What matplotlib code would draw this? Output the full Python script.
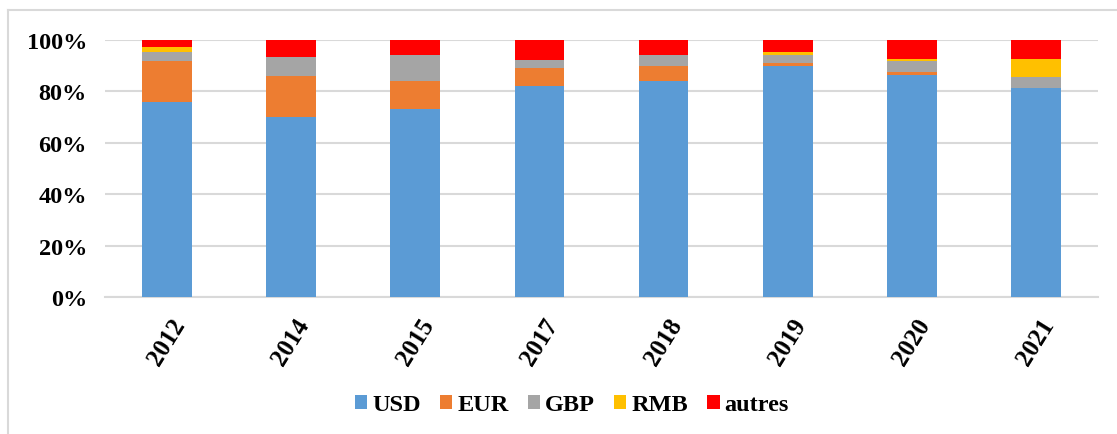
import matplotlib
matplotlib.use("Agg")
import matplotlib.pyplot as plt
from matplotlib.lines import Line2D
import numpy as np

years = ["2012", "2014", "2015", "2017", "2018", "2019", "2020", "2021"]
usd = [75.8, 70.2, 73.2, 82.0, 84.2, 90.0, 86.3, 81.4]
eur = [15.9, 15.9, 11.0, 7.1, 5.8, 1.2, 1.4, 0.0]
gbp = [3.5, 7.2, 10.1, 3.1, 4.3, 3.0, 4.0, 4.3]
rmb = [2.0, 0.0, 0.0, 0.0, 0.0, 1.0, 0.9, 6.9]
autres = [2.8, 6.7, 5.7, 7.8, 5.7, 4.8, 7.4, 7.4]

series = [("USD", usd, "#5B9BD5"), ("EUR", eur, "#ED7D31"),
          ("GBP", gbp, "#A5A5A5"), ("RMB", rmb, "#FFC000"),
          ("autres", autres, "#FF0000")]

plt.rcParams['font.family'] = ['Liberation Serif', 'DejaVu Serif']
plt.rcParams['font.weight'] = 'bold'

fig = plt.figure(figsize=(11.17, 4.35), dpi=100)
ax = fig.add_axes([105/1117, 1 - 298/435, (1098-105)/1117, (298-41)/435])

x = np.arange(len(years))
bottom = np.zeros(len(years))
handles = []
for name, vals, col in series:
    v = np.array(vals, dtype=float)
    b = ax.bar(x, v, bottom=bottom, width=0.4, color=col, label=name, zorder=3)
    bottom += v
    handles.append(b)

ax.set_xlim(-0.5, len(years) - 0.5)
ax.set_ylim(0, 100)
ax.set_yticks([0, 20, 40, 60, 80, 100])
ax.set_yticklabels([f"{v}%" for v in [0, 20, 40, 60, 80, 100]], fontsize=17.5, fontweight='bold')
ax.set_xticks(x)
ax.set_xticklabels(years, rotation=58, ha='center', va='top', rotation_mode='default',
                   fontsize=18, fontweight='bold')
ax.yaxis.grid(True, color='#D9D9D9', linewidth=1.5, zorder=0)
ax.tick_params(axis='y', length=0, pad=13)
ax.tick_params(axis='x', length=0, pad=12)
for s in ['top', 'right', 'left']:
    ax.spines[s].set_visible(False)
ax.spines['bottom'].set_color('#D9D9D9')
ax.spines['bottom'].set_linewidth(1.5)

leg = fig.legend(handles=handles, labels=[s[0] for s in series], loc='center',
                 bbox_to_anchor=(572/1117, 1 - 406/435), ncol=5, frameon=False,
                 prop={'size': 17.5, 'weight': 'bold'}, handlelength=0.5, handleheight=0.5,
                 handletextpad=0.2, columnspacing=0.8)

# outer frame (left and top)
fig.add_artist(Line2D([8/1117, 8/1117], [0, 1 - 11/435], transform=fig.transFigure,
                      color='#D9D9D9', linewidth=1.5))
fig.add_artist(Line2D([8/1117, 1], [1 - 11/435, 1 - 11/435], transform=fig.transFigure,
                      color='#D9D9D9', linewidth=1.5))

fig.savefig("out.png", dpi=100)
